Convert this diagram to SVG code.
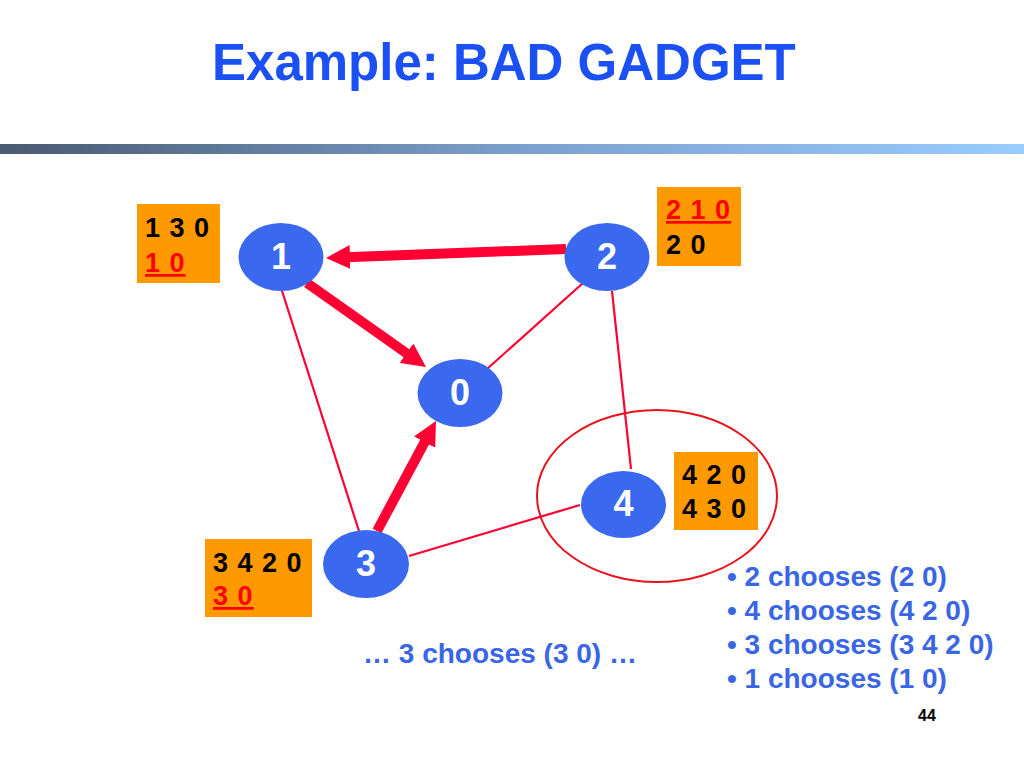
<svg xmlns="http://www.w3.org/2000/svg" width="1024" height="768" viewBox="0 0 1024 768">
<defs>
<linearGradient id="bar" x1="0" y1="0" x2="1" y2="0">
<stop offset="0" stop-color="#4a5a70"/>
<stop offset="0.5" stop-color="#7b9fcc"/>
<stop offset="1" stop-color="#99ccff"/>
</linearGradient>
<marker id="ah" markerUnits="userSpaceOnUse" markerWidth="24" markerHeight="24" refX="4" refY="12" orient="auto" viewBox="0 0 24 24">
<path d="M0,0 L24,12 L0,24 z" fill="#ff0033"/>
</marker>
<style>
.node{fill:#3a68ee}
.nl{font-family:"Liberation Sans",Arial,sans-serif;font-weight:bold;font-size:36px;fill:#ffffff;text-anchor:middle}
.box{fill:#ff9900}
.bt{font-family:"Liberation Sans",Arial,sans-serif;font-weight:bold;font-size:27px;fill:#000000;letter-spacing:1px}
.rt{fill:#ff0000;text-decoration:underline}
.thick{stroke:#ff0033;stroke-width:10;fill:none}
.thin{stroke:#ff0033;stroke-width:2.2;fill:none}
.blue{font-family:"Liberation Sans",Arial,sans-serif;font-weight:bold;font-size:28px;fill:#3a66e6}
</style>
</defs>
<rect width="1024" height="768" fill="#ffffff"/>
<text x="212" y="80" font-family="'Liberation Sans',Arial,sans-serif" font-weight="bold" font-size="51" fill="#1b50f5">Example: BAD GADGET</text>
<rect x="0" y="144" width="1024" height="10" fill="url(#bar)"/>

<ellipse cx="657" cy="496" rx="120" ry="86" fill="none" stroke="#e8141e" stroke-width="2"/>

<g id="connectors">
<line class="thin" x1="282" y1="291" x2="359" y2="531"/>
<line class="thin" x1="583" y1="283" x2="487" y2="369"/>
<line class="thin" x1="612" y1="291" x2="631" y2="469"/>
<line class="thin" x1="409" y1="556" x2="580" y2="505"/>
<line class="thick" x1="566" y1="249" x2="346" y2="257.2" marker-end="url(#ah)"/>
<line class="thick" x1="307" y1="283" x2="409.7" y2="355.5" marker-end="url(#ah)"/>
<line class="thick" x1="377" y1="531" x2="426.5" y2="438.6" marker-end="url(#ah)"/>
</g>

<g id="node0"><ellipse class="node" cx="460" cy="393" rx="42.5" ry="34"/><text class="nl" x="460" y="405">0</text></g>
<g id="node1"><ellipse class="node" cx="281" cy="257" rx="42.5" ry="34"/><text class="nl" x="281" y="269">1</text></g>
<g id="node2"><ellipse class="node" cx="607" cy="257" rx="42.5" ry="34"/><text class="nl" x="607" y="269">2</text></g>
<g id="node3"><ellipse class="node" cx="366" cy="564" rx="43" ry="34"/><text class="nl" x="366" y="576">3</text></g>
<g id="node4"><ellipse class="node" cx="623.5" cy="504.5" rx="42.5" ry="33.5"/><text class="nl" x="623.5" y="516">4</text></g>

<g id="box1"><rect class="box" x="137" y="204" width="83" height="79"/>
<text class="bt" x="145" y="237">1 3 0</text>
<text class="bt rt" x="145" y="272">1 0</text></g>
<g id="box2"><rect class="box" x="657" y="187" width="84" height="79"/>
<text class="bt rt" x="666" y="219">2 1 0</text>
<text class="bt" x="666" y="254">2 0</text></g>
<g id="box3"><rect class="box" x="205" y="539" width="107" height="78"/>
<text class="bt" x="213" y="572">3 4 2 0</text>
<text class="bt rt" x="213" y="605">3 0</text></g>
<g id="box4"><rect class="box" x="674" y="452" width="84" height="78"/>
<text class="bt" x="682" y="484">4 2 0</text>
<text class="bt" x="682" y="518">4 3 0</text></g>

<text class="blue" x="727" y="586">• 2 chooses (2 0)</text>
<text class="blue" x="727" y="620">• 4 chooses (4 2 0)</text>
<text class="blue" x="727" y="654">• 3 chooses (3 4 2 0)</text>
<text class="blue" x="727" y="688">• 1 chooses (1 0)</text>
<text class="blue" x="500" y="663" text-anchor="middle">… 3 chooses (3 0) …</text>
<text x="918" y="721" font-family="'Liberation Sans',Arial,sans-serif" font-weight="bold" font-size="16" fill="#000000">44</text>
</svg>
